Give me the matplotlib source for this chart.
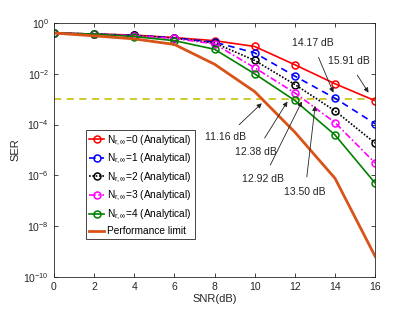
import numpy as np
import matplotlib
matplotlib.use("Agg")
import matplotlib.pyplot as plt

plt.rcParams['font.family'] = ['Liberation Sans', 'DejaVu Sans']
plt.rcParams['mathtext.fontset'] = 'custom'
plt.rcParams['mathtext.rm'] = 'Liberation Sans'
plt.rcParams['mathtext.it'] = 'Liberation Sans'

snr = [0, 2, 4, 6, 8, 10, 12, 14, 16]
# log10(SER) values
ser_n0 = [-0.39, -0.43, -0.47, -0.57, -0.69, -0.92, -1.64, -2.39, -3.06]
ser_n1 = [-0.39, -0.43, -0.48, -0.58, -0.75, -1.17, -2.09, -2.96, -3.97]
ser_n2 = [-0.39, -0.43, -0.48, -0.59, -0.78, -1.47, -2.42, -3.46, -4.73]
ser_n3 = [-0.39, -0.43, -0.49, -0.60, -0.82, -1.76, -2.75, -3.92, -5.52]
ser_n4 = [-0.39, -0.43, -0.53, -0.69, -1.03, -2.00, -3.05, -4.41, -6.31]
ser_limit = [-0.39, -0.50, -0.62, -0.84, -1.62, -2.70, -4.30, -6.12, -9.20]
target = -3.0

labels = [r'N$_{\mathrm{r},\infty}$=0 (Analytical)',
          r'N$_{\mathrm{r},\infty}$=1 (Analytical)',
          r'N$_{\mathrm{r},\infty}$=2 (Analytical)',
          r'N$_{\mathrm{r},\infty}$=3 (Analytical)',
          r'N$_{\mathrm{r},\infty}$=4 (Analytical)',
          'Performance limit']

# annotations: text, text position (x, log10 y), arrow tip (x, log10 y)
ann_text = ['14.17 dB', '15.91 dB', '11.16 dB', '12.38 dB', '12.92 dB', '13.50 dB']
ann_xy_text = [(12.88, -0.79), (14.67, -1.51), (8.57, -4.50), (10.07, -5.07), (10.43, -6.15), (12.51, -6.64)]
ann_xy_tip = [(13.92, -2.74), (15.67, -2.74), (10.35, -3.16), (11.63, -3.09), (12.35, -3.09), (13.01, -3.26)]

fig = plt.figure(figsize=(4.15, 3.13), dpi=100)
ax = fig.add_axes([0.130, 0.116, 0.774, 0.810])

pw = lambda v: [10 ** t for t in v]

ax.plot(snr, [10 ** target] * len(snr), color='#c8c81e', lw=1.3, ls=(0, (4, 3)))
ms = 5
ax.plot(snr, pw(ser_n0), color='red', ls='-', lw=1.2, marker='o', ms=ms, mfc='none', mew=1.1, label=labels[0])
ax.plot(snr, pw(ser_n1), color='blue', ls=(0, (4, 3)), lw=1.2, marker='o', ms=ms, mfc='none', mew=1.1, label=labels[1])
ax.plot(snr, pw(ser_n2), color='black', ls=(0, (1, 1)), lw=1.2, marker='o', ms=ms, mfc='none', mew=1.1, label=labels[2])
ax.plot(snr, pw(ser_n3), color='magenta', ls=(0, (4, 1.5, 1, 1.5)), lw=1.2, marker='o', ms=ms, mfc='none', mew=1.1, label=labels[3])
ax.plot(snr, pw(ser_n4), color='green', ls='-', lw=1.2, marker='o', ms=ms, mfc='none', mew=1.1, label=labels[4])
ax.plot(snr, pw(ser_limit), color='#d95319', ls='-', lw=2.0, label=labels[5])

for t, pt, tip in zip(ann_text, ann_xy_text, ann_xy_tip):
    ax.annotate(t, xy=(tip[0], 10 ** tip[1]), xytext=(pt[0], 10 ** pt[1]),
                fontsize=7.5, ha='center', va='center', color='#222222',
                arrowprops=dict(arrowstyle='-|>', color='#222222', lw=0.6,
                                mutation_scale=7, shrinkA=5, shrinkB=0))

ax.set_yscale('log')
ax.set_xlim(0, 16)
ax.set_ylim(1e-10, 1)
ax.set_xticks(snr)
ax.set_yticks([10.0 ** k for k in range(-10, 1, 2)])
ax.yaxis.set_minor_locator(matplotlib.ticker.NullLocator())
ax.tick_params(direction='in', top=True, right=True, labelsize=7.5, colors='#262626',
               length=3, width=0.6)
for s in ax.spines.values():
    s.set_color('#262626')
    s.set_linewidth(0.6)
ax.set_xlabel('SNR(dB)', fontsize=8, color='#262626', labelpad=2)
ax.set_ylabel('SER', fontsize=8, color='#262626', labelpad=2)

leg = ax.legend(loc='lower left', bbox_to_anchor=(0.10, 0.148), fontsize=7.3,
                handlelength=1.5, handletextpad=0.3, borderpad=0.3,
                labelspacing=0.42, fancybox=False, framealpha=1, borderaxespad=0)
leg.get_frame().set_edgecolor('#262626')
leg.get_frame().set_linewidth(0.6)

fig.savefig('out.png', dpi=100)
